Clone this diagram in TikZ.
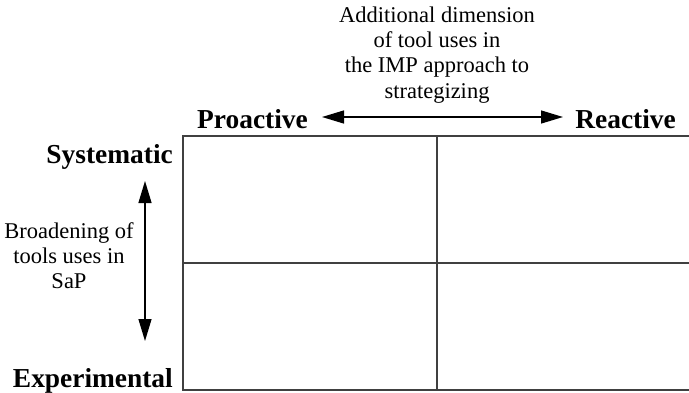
\documentclass[tikz,border=0pt]{standalone}
\usepackage{fontspec}
\setmainfont{Liberation Serif}
\usetikzlibrary{arrows.meta}
\tikzset{
  boldlab/.style={inner sep=0pt, font=\fontsize{27.4}{30}\selectfont\bfseries},
  plainlab/.style={inner sep=0pt, align=center},
  gridline/.style={draw=black!75, line width=1.1pt},
  dimarrow/.style={line width=1.3pt, {Triangle[length=22pt,width=13pt]}-{Triangle[length=22pt,width=13pt]}}
}
\begin{document}
\begin{tikzpicture}[x=1pt,y=-1pt]
\clip (0,0) rectangle (689,392);
% grid
\coordinate (tl) at (183,136);
\coordinate (bl) at (183,390);
\coordinate (tr) at (700,136);
\coordinate (br) at (700,390);
\coordinate (mt) at (437,136);
\coordinate (mb) at (437,390);
\coordinate (ml) at (183,263);
\coordinate (mr) at (700,263);
\draw[gridline] (tr) -- (tl) -- (bl) -- (br);
\draw[gridline] (mt) -- (mb);
\draw[gridline] (ml) -- (mr);
% labels
\node[boldlab, anchor=base east] (sys) at (173,163) {Systematic};
\node[boldlab, anchor=base east] (exp) at (173,387) {Experimental};
\node[boldlab, anchor=base west] (pro) at (197,128) {Proactive};
\node[boldlab, anchor=base east] (rea) at (676,128) {Reactive};
\node[plainlab, font=\fontsize{22.5}{25.3}\selectfont, anchor=north] (dim) at (437,6.3)
  {Additional dimension\\of tool uses in\\the IMP approach to\\strategizing};
\node[plainlab, font=\fontsize{22.5}{25}\selectfont, anchor=north] (bro) at (69,222)
  {Broadening of\\tools uses in\\SaP};
% arrows
\coordinate (hl) at (322,117);
\coordinate (hr) at (563,117);
\coordinate (vt) at (145,181);
\coordinate (vb) at (145,341);
\draw[dimarrow] (hl) -- (hr);
\draw[dimarrow] (vt) -- (vb);
\end{tikzpicture}
\end{document}
